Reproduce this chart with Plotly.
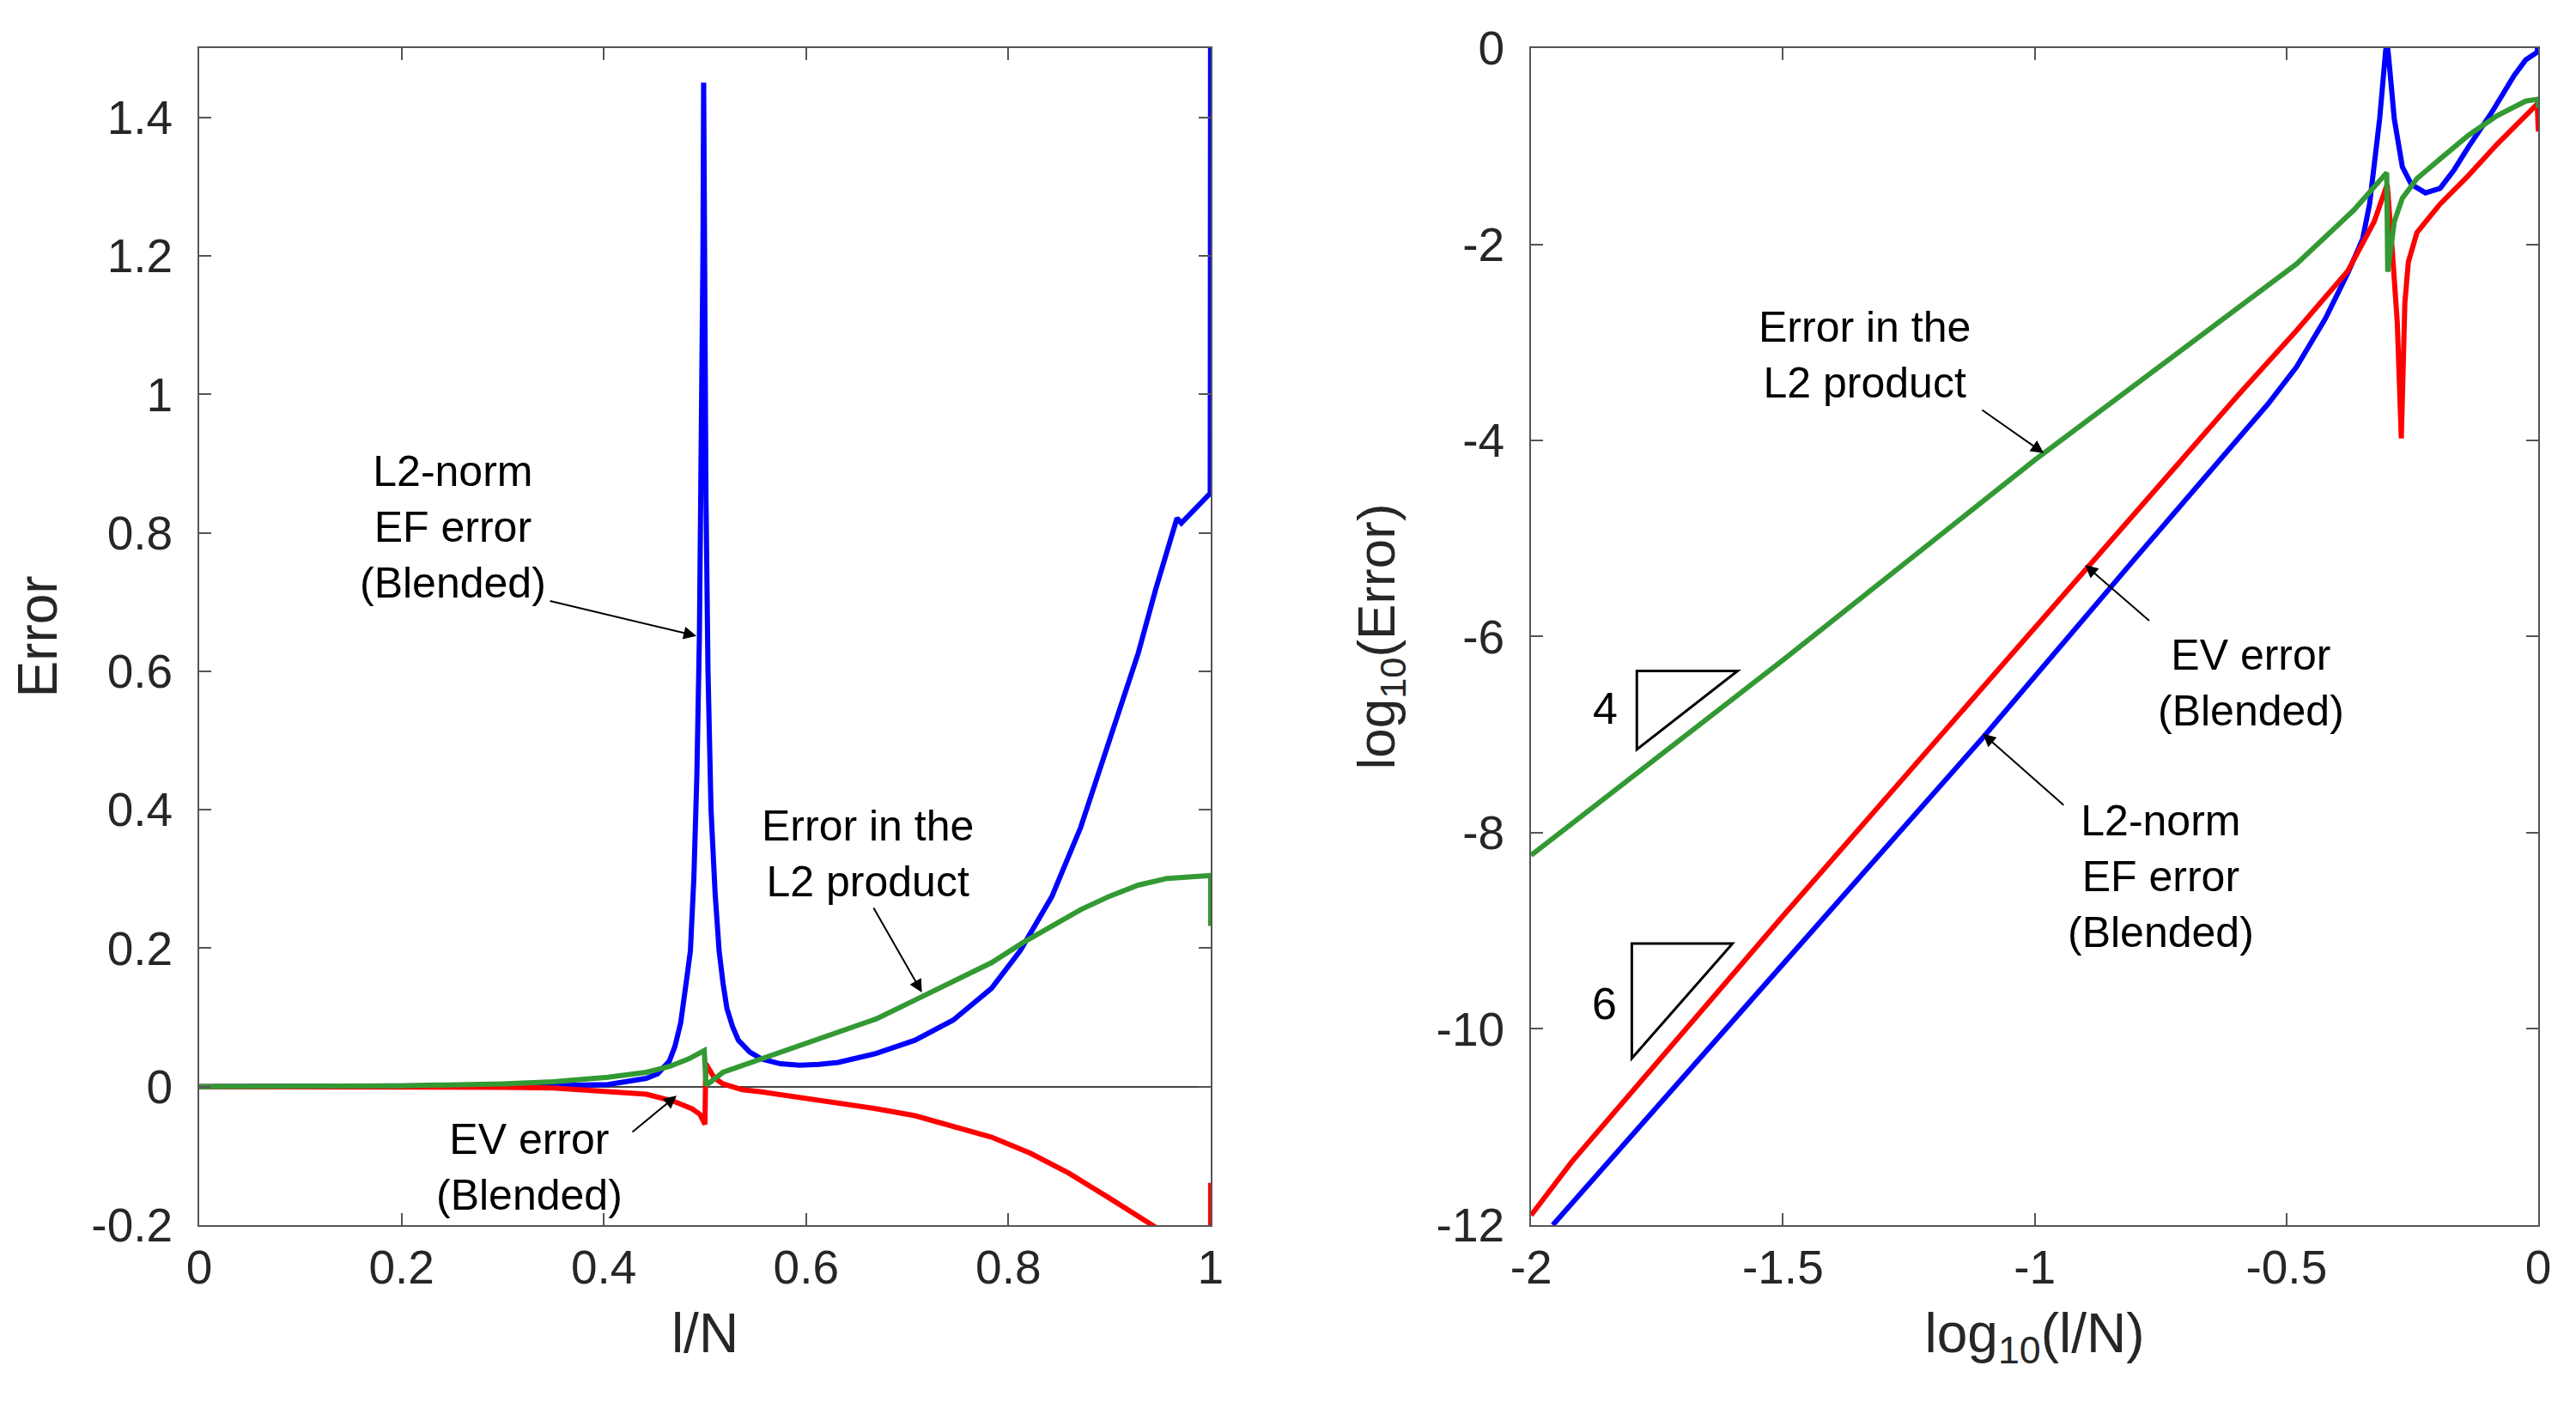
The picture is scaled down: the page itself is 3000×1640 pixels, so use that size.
import plotly.graph_objects as go

# ---- left panel: error vs l/N ----
ln_blue_x = [0, 0.1, 0.2, 0.3, 0.35, 0.404, 0.442, 0.4533, 0.4648, 0.4703, 0.476, 0.4818, 0.4856,
             0.489, 0.492, 0.4945, 0.4965, 0.498, 0.4987, 0.4995, 0.501, 0.503, 0.506, 0.510,
             0.514, 0.5178, 0.5217, 0.5272, 0.533, 0.5442, 0.5558, 0.5747, 0.5937, 0.6127,
             0.6316, 0.6696, 0.7076, 0.7454, 0.7834, 0.8116, 0.843, 0.8714, 0.900, 0.917,
             0.9284, 0.9454, 0.957, 0.9667, 0.971, 0.9852, 0.9996, 1.0]
ln_blue_y = [0, 0, 0.0002, 0.0008, 0.0015, 0.003, 0.012, 0.0186, 0.037, 0.058, 0.092, 0.154, 0.196,
             0.30, 0.45, 0.65, 0.9, 1.2, 1.45, 1.2, 0.85, 0.6, 0.4, 0.28,
             0.196, 0.15, 0.113, 0.087, 0.067, 0.05, 0.040, 0.033, 0.031, 0.032,
             0.035, 0.048, 0.067, 0.096, 0.142, 0.196, 0.2745, 0.374, 0.498, 0.574,
             0.626, 0.717, 0.774, 0.821, 0.814, 0.835, 0.857, 1.6]

ln_green_x = [0, 0.1, 0.2, 0.3, 0.35, 0.404, 0.442, 0.4648, 0.484, 0.4993, 0.5012, 0.5178, 0.5558,
              0.5937, 0.6316, 0.6696, 0.7076, 0.7454, 0.7834, 0.8145, 0.843, 0.8714, 0.900,
              0.9284, 0.957, 0.9852, 1.0, 1.0]
ln_green_y = [0, 0.0003, 0.0012, 0.004, 0.007, 0.0136, 0.0206, 0.029, 0.040, 0.052, 0.002, 0.0206,
              0.040, 0.058, 0.077, 0.098, 0.125, 0.152, 0.179, 0.208, 0.232, 0.2555, 0.275,
              0.291, 0.3007, 0.3045, 0.305, 0.232]

ln_red_x = [0, 0.1, 0.2, 0.3, 0.35, 0.404, 0.442, 0.4686, 0.4872, 0.495, 0.5, 0.5008, 0.504, 0.509,
            0.5178, 0.537, 0.5558, 0.5937, 0.6316, 0.6696, 0.7076, 0.7454, 0.7834, 0.8218,
            0.8597, 0.8977, 0.947, 0.975, 1.0, 1.0]
ln_red_y = [0, 0, -0.0003, -0.001, -0.002, -0.0074, -0.011, -0.021, -0.032, -0.04, -0.0545, 0.033,
            0.025, 0.013, 0.004, -0.0045, -0.0076, -0.0158, -0.023, -0.032, -0.042, -0.0567,
            -0.073, -0.0963, -0.125, -0.159, -0.2045, -0.235, -0.27, -0.139]

# ---- right panel: log10(error) vs log10(l/N) ----
lg_blue_x = [-1.957, -1.5, -1.103, -0.8, -0.593, -0.537, -0.48, -0.423, -0.378, -0.349, -0.335,
             -0.315, -0.303, -0.300, -0.297, -0.286, -0.27, -0.252, -0.224, -0.195, -0.167,
             -0.139, -0.093, -0.048, -0.025, -0.002, 0]
lg_blue_y = [-12, -9.34, -7.03, -5.2, -3.95, -3.63, -3.25, -2.76, -2.29, -1.95, -1.59,
             -0.72, -0.02, 0.05, -0.1, -0.72, -1.21, -1.39, -1.476, -1.43, -1.24,
             -1.01, -0.66, -0.28, -0.12, -0.04, 0.2]

lg_red_x = [-2, -1.95, -1.92, -1.5, -1.0, -0.7, -0.593, -0.48, -0.378, -0.326, -0.300, -0.29,
            -0.28, -0.272, -0.265, -0.258, -0.241, -0.195, -0.139, -0.082, -0.025, -0.002, 0]
lg_red_y = [-11.9, -11.55, -11.36, -8.85, -5.91, -4.15, -3.52, -2.88, -2.27, -1.77, -1.39, -2.06,
            -2.8, -3.98, -2.6, -2.18, -1.88, -1.59, -1.30, -0.98, -0.69, -0.57, -0.85]

lg_green_x = [-2, -1.5, -1.0, -0.593, -0.48, -0.366, -0.309, -0.301, -0.299, -0.286, -0.27,
              -0.241, -0.195, -0.139, -0.082, -0.025, 0, 0]
lg_green_y = [-8.23, -6.24, -4.2, -2.64, -2.2, -1.65, -1.30, -1.27, -2.28, -1.77, -1.53,
              -1.33, -1.13, -0.89, -0.69, -0.54, -0.52, -0.61]

# ticks
lin_xticks = [0, 0.2, 0.4, 0.6, 0.8, 1]
lin_xtext = ["0", "0.2", "0.4", "0.6", "0.8", "1"]
lin_yticks = [-0.2, 0, 0.2, 0.4, 0.6, 0.8, 1, 1.2, 1.4]
lin_ytext = ["-0.2", "0", "0.2", "0.4", "0.6", "0.8", "1", "1.2", "1.4"]
log_xticks = [-2, -1.5, -1, -0.5, 0]
log_xtext = ["-2", "-1.5", "-1", "-0.5", "0"]
log_yticks = [-12, -10, -8, -6, -4, -2, 0]
log_ytext = ["-12", "-10", "-8", "-6", "-4", "-2", "0"]

# slope triangles (log panel) and their labels
tri4 = [(-1.79, -6.35), (-1.59, -6.35), (-1.79, -7.15)]
tri6 = [(-1.80, -9.13), (-1.60, -9.13), (-1.80, -10.3)]
tri_labels = [("4", -1.852, -6.73), ("6", -1.855, -9.74)]

BLUE, RED, GREEN = "#0000ff", "#ff0000", "#339933"
LW = 6
FONT = "Arial, Liberation Sans, sans-serif"
TXT = "#262626"

fig = go.Figure()
for xs, ys, c in [(ln_blue_x, ln_blue_y, BLUE), (ln_red_x, ln_red_y, RED), (ln_green_x, ln_green_y, GREEN)]:
    fig.add_trace(go.Scatter(x=xs, y=ys, mode="lines", line=dict(color=c, width=LW),
                             xaxis="x", yaxis="y", showlegend=False, hoverinfo="skip"))
for xs, ys, c in [(lg_blue_x, lg_blue_y, BLUE), (lg_red_x, lg_red_y, RED), (lg_green_x, lg_green_y, GREEN)]:
    fig.add_trace(go.Scatter(x=xs, y=ys, mode="lines", line=dict(color=c, width=LW),
                             xaxis="x2", yaxis="y2", showlegend=False, hoverinfo="skip"))

axis_common = dict(showline=True, linecolor="#555555", linewidth=2, mirror="ticks",
                   ticks="inside", ticklen=14, tickwidth=2, tickcolor="#555555",
                   showgrid=False, tickfont=dict(family=FONT, size=55, color=TXT),
                   automargin=False)

fig.update_layout(
    width=3000, height=1640,
    margin=dict(l=0, r=0, t=0, b=0),
    paper_bgcolor="white", plot_bgcolor="white",
    font=dict(family=FONT, color=TXT),
    xaxis=dict(axis_common, domain=[0.0747, 0.4673], range=[0, 1], tickvals=lin_xticks,
               ticktext=lin_xtext, zeroline=False, ticklabelstandoff=0,
               title=dict(text="l/N", font=dict(size=64, color=TXT), standoff=24)),
    yaxis=dict(axis_common, domain=[0.1348, 0.9707], range=[-0.2, 1.5], tickvals=lin_yticks,
               ticktext=lin_ytext, zeroline=True, zerolinecolor="#444444", zerolinewidth=2,
               ticklabelstandoff=18,
               title=dict(text="Error", font=dict(size=64, color=TXT), standoff=20)),
    xaxis2=dict(axis_common, domain=[0.5917, 0.9827], range=[-2, 0], tickvals=log_xticks,
                ticktext=log_xtext, zeroline=False, anchor="y2", ticklabelstandoff=0,
                title=dict(text="log<sub>10</sub>(l/N)", font=dict(size=64, color=TXT), standoff=24)),
    yaxis2=dict(axis_common, domain=[0.1348, 0.9707], range=[-12, 0], tickvals=log_yticks,
                ticktext=log_ytext, zeroline=False, anchor="x2", ticklabelstandoff=18,
                title=dict(text="log<sub>10</sub>(Error)", font=dict(size=62, color=TXT), standoff=28)),
)

for tri in (tri4, tri6):
    path = "M {},{} L {},{} L {},{} Z".format(*[v for p in tri for v in p])
    fig.add_shape(type="path", path=path, xref="x2", yref="y2",
                  line=dict(color="black", width=3), fillcolor="rgba(0,0,0,0)")
for t, x, y in tri_labels:
    fig.add_annotation(text=t, x=x, y=y, xref="x2", yref="y2", showarrow=False,
                       font=dict(family=FONT, size=52, color="black"))

# text labels: (text, x, y, axis suffix)
labels = [
    ("L2-norm<br>EF error<br>(Blended)", 0.251, 0.808, ""),
    ("Error in the<br>L2 product", 0.661, 0.336, ""),
    ("EV error<br>(Blended)", 0.326, -0.117, ""),
    ("Error in the<br>L2 product", -1.337, -3.13, "2"),
    ("EV error<br>(Blended)", -0.571, -6.47, "2"),
    ("L2-norm<br>EF error<br>(Blended)", -0.75, -8.45, "2"),
]
for t, x, y, s in labels:
    fig.add_annotation(text=t, x=x, y=y, xref="x" + s, yref="y" + s, showarrow=False,
                       align="center", font=dict(family=FONT, size=50, color="black"))

# arrows: (tip x, tip y, tail x, tail y, axis suffix)
arrows = [
    (0.4916, 0.651, 0.3455, 0.702, ""),
    (0.7145, 0.136, 0.666, 0.26, ""),
    (0.472, -0.013, 0.427, -0.067, ""),
    (-0.982, -4.13, -1.107, -3.68, "2"),
    (-0.9, -5.27, -0.77, -5.85, "2"),
    (-1.103, -6.99, -0.94, -7.73, "2"),
]
for x, y, ax, ay, s in arrows:
    fig.add_annotation(text="", x=x, y=y, ax=ax, ay=ay, xref="x" + s, yref="y" + s,
                       axref="x" + s, ayref="y" + s, showarrow=True, arrowhead=2,
                       arrowsize=1.5, arrowwidth=2, arrowcolor="black")

fig.write_html("out.html")
